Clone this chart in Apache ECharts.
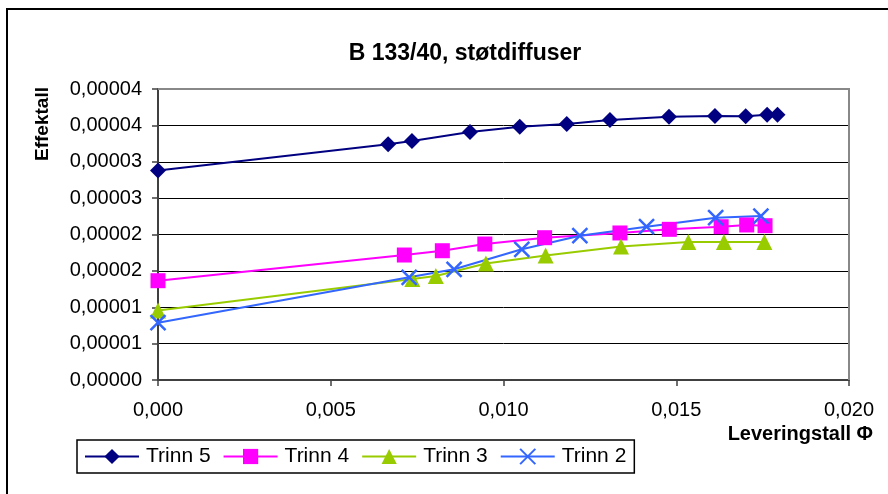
<!DOCTYPE html>
<html>
<head>
<meta charset="utf-8">
<script src="https://cdn.jsdelivr.net/npm/echarts@6/dist/echarts.min.js"></script>
<style>
  html, body { margin: 0; padding: 0; background: #fff; }
  #chart { width: 888px; height: 494px; }
</style>
</head>
<body>
<div id="chart"></div>
<script>
// Leveringstall / Effektall pairs
const trinn5 = [
  [0.0, 2.88e-5], [0.00666, 3.24e-5], [0.00735, 3.285e-5], [0.00903, 3.41e-5],
  [0.01047, 3.48e-5], [0.01183, 3.52e-5], [0.01308, 3.574e-5], [0.01479, 3.617e-5],
  [0.01612, 3.63e-5], [0.01701, 3.627e-5], [0.01763, 3.645e-5], [0.01793, 3.645e-5]
];
const trinn4 = [
  [0.0, 1.365e-5], [0.00713, 1.718e-5], [0.00823, 1.777e-5], [0.00946, 1.869e-5],
  [0.01119, 1.956e-5], [0.01337, 2.021e-5], [0.0148, 2.071e-5], [0.0163, 2.107e-5],
  [0.01704, 2.131e-5], [0.01757, 2.121e-5]
];
const trinn3 = [
  [0.0, 9.55e-6], [0.00736, 1.388e-5], [0.00804, 1.43e-5], [0.00949, 1.601e-5],
  [0.01122, 1.711e-5], [0.0134, 1.835e-5], [0.01535, 1.897e-5], [0.01638, 1.897e-5],
  [0.01755, 1.897e-5]
];
const trinn2 = [
  [0.0, 7.88e-6], [0.00727, 1.412e-5], [0.00857, 1.522e-5], [0.01053, 1.797e-5],
  [0.01221, 1.984e-5], [0.01414, 2.107e-5], [0.01614, 2.231e-5], [0.01745, 2.254e-5]
];
const yTickLabels = ["0,00000", "0,00001", "0,00001", "0,00002", "0,00002",
  "0,00003", "0,00003", "0,00004", "0,00004"];

const font = "'Liberation Sans', Arial, sans-serif";
const chart = echarts.init(document.getElementById("chart"));

function lineSeries(name, data, color, symbol, size, extraItem) {
  return {
    name: name,
    type: "line",
    data: data,
    symbol: symbol,
    symbolSize: size,
    showAllSymbol: true,
    lineStyle: { color: color, width: 2 },
    itemStyle: Object.assign({ color: color, borderWidth: 0 }, extraItem || {}),
    emphasis: { disabled: true },
    animation: false,
    z: 3
  };
}

chart.setOption({
  animation: false,
  title: {
    text: "B 133/40, støtdiffuser",
    left: 460,
    top: 37,
    textAlign: "center",
    textStyle: { fontFamily: font, fontSize: 23, fontWeight: "bold", color: "#000" }
  },
  grid: { left: 158, right: 39, top: 89, bottom: 114, show: false },
  legend: {
    left: 77,
    top: 440,
    orient: "horizontal",
    padding: [6, 8, 6, 7],
    itemWidth: 54,
    itemHeight: 19,
    itemGap: 12,
    borderColor: "#000",
    borderWidth: 1.5,
    borderRadius: 0,
    textStyle: { fontFamily: font, fontSize: 21, color: "#000", padding: [0, 0, 0, 2] },
    data: ["Trinn 5", "Trinn 4", "Trinn 3", "Trinn 2"]
  },
  xAxis: {
    type: "value",
    min: 0,
    max: 0.02,
    interval: 0.005,
    axisLine: { show: true, onZero: false, lineStyle: { color: "#404040", width: 2 } },
    axisTick: { show: true, inside: false, length: 6, lineStyle: { color: "#404040", width: 1.5 } },
    axisLabel: {
      margin: 20,
      fontFamily: font, fontSize: 20, color: "#000",
      formatter: v => v.toFixed(3).replace(".", ",")
    },
    splitLine: { show: false }
  },
  yAxis: {
    type: "value",
    min: 0,
    max: 0.00004,
    interval: 0.000005,
    axisLine: { show: true, lineStyle: { color: "#404040", width: 2 } },
    axisTick: { show: true, inside: false, length: 6, lineStyle: { color: "#404040", width: 1.5 } },
    axisLabel: {
      margin: 16,
      fontFamily: font, fontSize: 20, color: "#000",
      formatter: v => yTickLabels[Math.round(v / 0.000005)]
    },
    splitLine: { show: true, lineStyle: { color: "#000", width: 1 } }
  },
  graphic: [
    { type: "rect", shape: { x: 7, y: 9, width: 900, height: 500 },
      style: { fill: "none", stroke: "#000", lineWidth: 2 }, z: 0 },
    { type: "polyline", shape: { points: [[158, 89], [849, 89], [849, 380]] },
      style: { fill: "none", stroke: "#888", lineWidth: 2 }, z: 1 },
    { type: "text", x: 43, y: 124, rotation: Math.PI / 2,
      style: { text: "Effektall", fontFamily: font, fontSize: 19, fontWeight: "bold",
        fill: "#000", align: "center", verticalAlign: "middle" } },
    { type: "text", x: 873, y: 434,
      style: { text: "Leveringstall Φ", fontFamily: font, fontSize: 20, fontWeight: "bold",
        fill: "#000", align: "right", verticalAlign: "middle" } }
  ],
  series: [
    lineSeries("Trinn 5", trinn5, "#000080", "diamond", 16),
    lineSeries("Trinn 4", trinn4, "#ff00ff", "rect", 15),
    lineSeries("Trinn 3", trinn3, "#99cc00", "triangle", 16),
    lineSeries("Trinn 2", trinn2, "#3366ff", "path://M0 0L10 10M10 0L0 10", 15,
      { color: "#3366ff", borderColor: "#3366ff", borderWidth: 2.5 })
  ]
});
</script>
</body>
</html>
